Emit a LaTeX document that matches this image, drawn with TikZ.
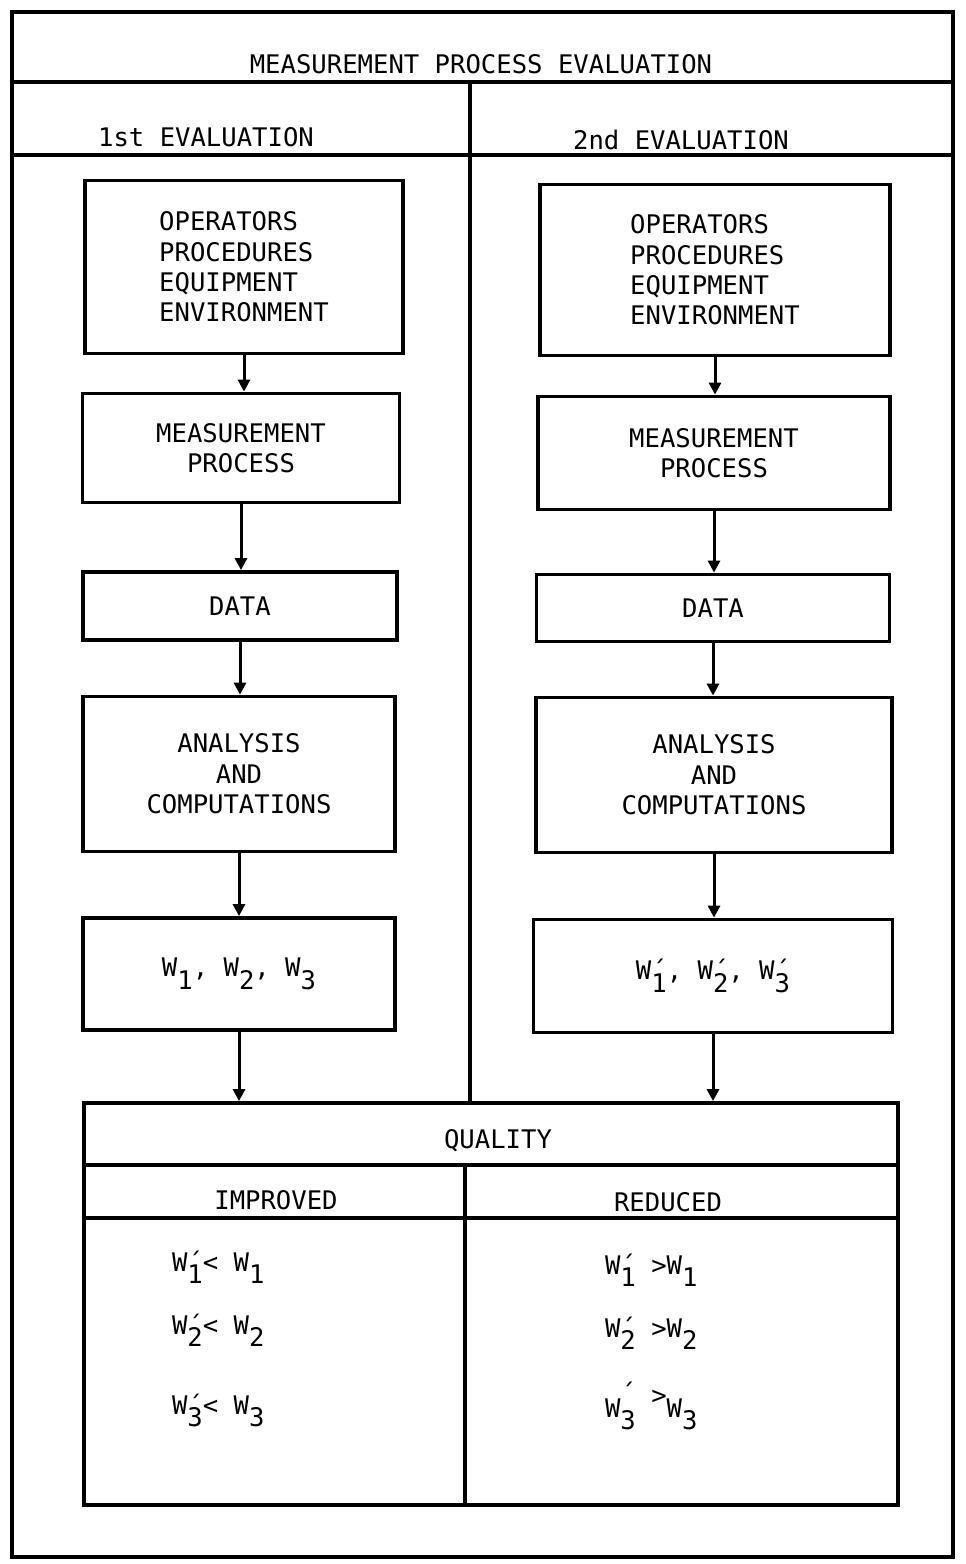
\documentclass[tikz,border=0pt]{standalone}
\usepackage{fontspec}
\newfontfamily\tw{DejaVu Sans Mono}
\usetikzlibrary{arrows.meta, positioning}
\newcommand{\typ}{\tw\fontsize{12.8pt}{15.2pt}\selectfont}
\newcommand{\Ws}[1]{W\raisebox{-0.5em}{#1}}
\newcommand{\Wq}[1]{W\rlap{´}\raisebox{-0.5em}{#1}}

\begin{document}
\begin{tikzpicture}[x=0.5pt, y=-0.5pt, every node/.style={font=\typ},
  box/.style={draw, line width=1.9pt, align=center, inner sep=0pt},
  sz/.style 2 args={minimum width=#1*0.5pt, minimum height=#2*0.5pt},
  flow/.style={-{Triangle[length=6pt, width=6pt]}, line width=1.5pt},
  rule/.style={line width=1.6pt}]
  \useasboundingbox (0,0) rectangle (965,1564);
  % outer frame and header rows
  \draw[line width=1.9pt] (12,12) rectangle (953,1557);
  \draw[rule] (12,82) -- (953,82);
  \draw[rule] (12,155) -- (953,155);
  \coordinate (dv) at (470,82);
  \node (title) at (481,64) {MEASUREMENT PROCESS EVALUATION};
  \node (ev1) at (206,137) {1st EVALUATION};
  \node (ev2) at (681,140) {2nd EVALUATION};
  % 1st evaluation
  \node[box, sz={318}{173}, align=left] (op1) at (244,267) {OPERATORS\\PROCEDURES\\EQUIPMENT\\ENVIRONMENT};
  \node[box, sz={317}{109}] (mp1) at (241,448) {MEASUREMENT\\PROCESS};
  \node[box, sz={314}{68}] (dt1) at (240,606) {DATA};
  \node[box, sz={312}{155}] (an1) at (239,774) {ANALYSIS\\AND\\COMPUTATIONS};
  \node[box, sz={312}{112}] (w1) at (239,974) {\Ws{1}, \Ws{2}, \Ws{3}};
  % 2nd evaluation
  \node[box, sz={350}{171}, align=left] (op2) at (715,270) {OPERATORS\\PROCEDURES\\EQUIPMENT\\ENVIRONMENT};
  \node[box, sz={352}{113}] (mp2) at (714,453) {MEASUREMENT\\PROCESS};
  \node[box, sz={353}{67}] (dt2) at (713,608) {DATA};
  \node[box, sz={356}{155}] (an2) at (714,775) {ANALYSIS\\AND\\COMPUTATIONS};
  \node[box, sz={359}{113}] (w2) at (713,976) {\Wq{1}, \Wq{2}, \Wq{3}};
  % quality table
  \node[box, sz={814}{402}] (ql) at (491,1304) {};
  \draw[rule] (dv) -- (dv |- ql.north);
  \draw[rule] (84,1165) -- (898,1165);
  \draw[rule] (84,1218) -- (898,1218);
  \coordinate (qv) at (465,1165);
  \draw[rule] (qv) -- (qv |- ql.south);
  \node (qual) at (498,1141) {QUALITY};
  \node (imp) at (276,1200) {IMPROVED};
  \node (red) at (668,1202) {REDUCED};
  \node[anchor=base west] (i1) at (165,1271) {\Wq{1}< \Ws{1}};
  \node[anchor=base west] (i2) at (165,1334) {\Wq{2}< \Ws{2}};
  \node[anchor=base west] (i3) at (165,1414) {\Wq{3}< \Ws{3}};
  \node[anchor=base west] (r1) at (598,1274) {\Wq{1} >\Ws{1}};
  \node[anchor=base west] (r2) at (598,1337) {\Wq{2} >\Ws{2}};
  \node[anchor=base west] (r3) at (598,1417) {W\rlap{\raisebox{0.55em}{´}}\raisebox{-0.5em}{3} \raisebox{0.5em}{>}\Ws{3}};
  % connectors
  \foreach \a/\b in {op1/mp1, mp1/dt1, dt1/an1, an1/w1, w1/ql,
                     op2/mp2, mp2/dt2, dt2/an2, an2/w2, w2/ql}
    \draw[flow] (\a.south) -- (\a.south |- \b.north);
\end{tikzpicture}
\end{document}
